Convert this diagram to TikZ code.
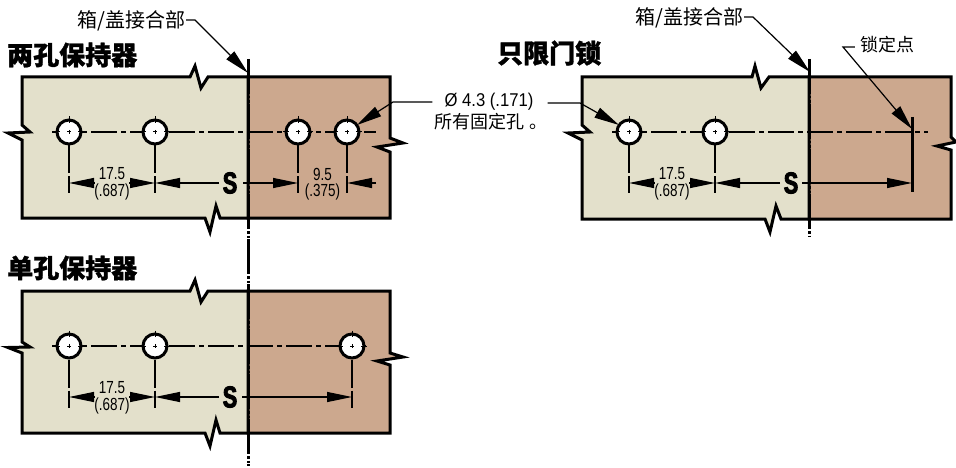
\documentclass[tikz,border=0pt]{standalone}
\usepackage{fontspec}
\usetikzlibrary{arrows.meta}
\setmainfont{Liberation Sans}
\newfontfamily\cjk{Noto Sans CJK SC}
\newfontfamily\cjkh[FakeBold=1.2]{Noto Sans CJK SC}
\newfontfamily\narrowf[FakeStretch=0.77]{Liberation Sans}
\newfontfamily\sizef[FakeStretch=0.9]{Liberation Sans}
\newfontfamily\narrowbf[FakeStretch=0.72,FakeBold=3]{Liberation Sans}
\definecolor{beigeplate}{HTML}{E3E0CB}
\definecolor{brownplate}{HTML}{CCA88E}
\tikzset{
  plateA/.style={fill=beigeplate,draw=black,line width=3pt,miter limit=10},
  plateB/.style={fill=brownplate,draw=black,line width=3pt,miter limit=10},
  chain/.style={line width=1.3pt,dash pattern=on 26pt off 4pt on 5pt off 4pt},
  hole/.style={circle,fill=white,draw=black,line width=3pt,minimum size=24pt,inner sep=0pt},
  extline/.style={line width=1.3pt,dash pattern=on 28pt off 3pt on 18pt},
  dimtip/.style={line width=1.2pt,-{Triangle[length=25pt,width=10pt]}},
  leader/.style={line width=1.2pt,-{Triangle[length=25pt,width=11pt]}},
  foldline/.style={line width=3pt,dash pattern=on 35pt off 2pt on 2.5pt off 2pt on 2.5pt off 1pt},
  heading/.style={font=\cjkh\bfseries\fontsize{26}{28}\selectfont,inner sep=0pt},
  note/.style={font=\cjk\fontsize{18}{20}\selectfont,inner sep=0pt},
  jointnote/.style={font=\cjk\fontsize{20}{22}\selectfont,inner sep=0pt},
  dimtext/.style={font=\narrowf\fontsize{17.5}{19}\selectfont,inner sep=0pt},
  sizetext/.style={font=\sizef\fontsize{18.5}{20}\selectfont,inner sep=0pt},
  slabel/.style={font=\narrowbf\bfseries\fontsize{30}{32}\selectfont,inner sep=0pt},
  lockbar/.style={line width=3pt},
}
\newcommand{\holeat}[3]{%
  \node[hole] (#1) at (#2,#3) {};
  \draw[line width=1pt] (#2-2,#3) -- (#2+2,#3) (#2,#3-2) -- (#2,#3+2);
  \draw[line width=1pt] (#2-15,#3) -- (#2-9,#3) (#2+9,#3) -- (#2+15,#3) (#2,#3-15.5) -- (#2,#3-9);
}
\begin{document}
\begin{tikzpicture}[x=1pt,y=-1pt]
\useasboundingbox (0,0) rectangle (956,468);
\fill[white] (0,0) rectangle (956,468);
% ---- plates
\draw[plateA] (248,77) -- (208,77) -- (201,88) -- (195,66) -- (190,77) -- (22,77) -- (22,125) -- (30,132) -- (8,133) -- (22,140) -- (22,218) -- (205,218) -- (210,232) -- (216,206) -- (220,218) -- (248,218);
\draw[plateB] (248,77) -- (390,77) -- (390,138) -- (403,143) -- (377,147) -- (390,152) -- (390,218) -- (248,218) -- cycle;
\draw[plateA] (248,291) -- (208,291) -- (201,302) -- (195,280) -- (190,291) -- (22,291) -- (22,342) -- (30,347) -- (8,347.5) -- (22,353) -- (22,433) -- (205,433) -- (210,446) -- (216,420) -- (220,433) -- (248,433);
\draw[plateB] (248,291) -- (390,291) -- (390,353) -- (403,357) -- (377,361) -- (390,365) -- (390,433) -- (248,433) -- cycle;
\draw[plateA] (809,77) -- (769,77) -- (761,88) -- (755,66) -- (752,77) -- (582,77) -- (582,125) -- (590,132) -- (568,133) -- (582,140) -- (582,219) -- (765,219) -- (770,232) -- (776,206) -- (781,219) -- (809,219);
\draw[plateB] (809,77) -- (951,77) -- (951,137) -- (956,142) -- (937,146) -- (951,150) -- (951,219) -- (809,219) -- cycle;
% ---- fold lines
\coordinate (foldAtop) at (248,59);
\coordinate (foldAbot) at (248,466);
\coordinate (foldBtop) at (809,59);
\coordinate (foldBbot) at (809,236);
\draw[foldline] (foldAtop) -- (foldAbot);
\draw[foldline] (foldBtop) -- (foldBbot);
% ---- centre lines
\coordinate (clAl) at (52,132); \coordinate (clAr) at (376,132);
\coordinate (clBl) at (52,346); \coordinate (clBr) at (366,346);
\coordinate (clCl) at (612,132); \coordinate (clCr) at (928,132);
\draw[chain] (clAl) -- (clAr);
\draw[chain] (clBl) -- (clBr);
\draw[chain] (clCl) -- (clCr);
% ---- holes
\holeat{a1}{69}{132}\holeat{a2}{155}{132}\holeat{a3}{298}{132}\holeat{a4}{347}{132}
\holeat{b1}{69}{346}\holeat{b2}{155}{346}\holeat{b3}{352}{346}
\holeat{c1}{629}{132}\holeat{c2}{715}{132}
% ---- extension lines
\coordinate (ya) at (0,193); \coordinate (yb) at (0,408); \coordinate (yc) at (0,193);
\foreach \h in {a1,a2,a3,a4} \draw[extline] (\h.south) -- (\h |- ya);
\foreach \h in {b1,b2,b3} \draw[extline] (\h.south) -- (\h |- yb);
\foreach \h in {c1,c2} \draw[extline] (\h.south) -- (\h |- yc);
% ---- S labels
\node[slabel] (sa) at (230,183) {S};
\node[slabel] (sb) at (230,397) {S};
\node[slabel] (sc) at (791,183) {S};
% ---- dimension texts
\node[dimtext] (ta1) at (112,173.5) {17.5};
\node[dimtext] (ta2) at (112,191.5) {(.687)};
\node[dimtext] (tb1) at (112,387.5) {17.5};
\node[dimtext] (tb2) at (112,405.5) {(.687)};
\node[dimtext] (tc1) at (672,173.5) {17.5};
\node[dimtext] (tc2) at (672,191.5) {(.687)};
\node[dimtext] (td1) at (322.5,174) {9.5};
\node[dimtext] (td2) at (322.5,192) {(.375)};
% ---- dimension arrows, plate A
\coordinate (da) at (0,183);
\coordinate (m1) at (94,183); \coordinate (m2) at (129,183); \coordinate (m3) at (219,183);
\coordinate (m4) at (243,183); \coordinate (m5) at (376,183);
\draw[dimtip] (m1) -- (a1 |- da);
\draw[dimtip] (m2) -- (a2 |- da);
\draw[dimtip] (m3) -- (a2 |- da);
\draw[dimtip] (m4) -- (a3 |- da);
\draw[dimtip] (m5) -- (a4 |- da);
% ---- dimension arrows, plate B
\coordinate (db) at (0,397);
\coordinate (n1) at (94,397); \coordinate (n2) at (129,397); \coordinate (n3) at (219,397);
\coordinate (n4) at (242,397);
\draw[dimtip] (n1) -- (b1 |- db);
\draw[dimtip] (n2) -- (b2 |- db);
\draw[dimtip] (n3) -- (b2 |- db);
\draw[dimtip] (n4) -- (b3 |- db);
% ---- dimension arrows, plate C
\coordinate (lockT) at (912,117); \coordinate (lockB) at (912,192);
\draw[lockbar] (lockT) -- (lockB);
\coordinate (dc) at (0,183);
\coordinate (p1) at (654,183); \coordinate (p2) at (689,183); \coordinate (p3) at (780,183);
\coordinate (p4) at (802,183);
\draw[dimtip] (p1) -- (c1 |- dc);
\draw[dimtip] (p2) -- (c2 |- dc);
\draw[dimtip] (p3) -- (c2 |- dc);
\draw[dimtip] (p4) -- (lockT |- dc);
% ---- headings
\node[heading,anchor=west] (h1) at (7,55) {两孔保持器};
\node[heading,anchor=west] (h2) at (7,268) {单孔保持器};
\node[heading,anchor=west] (h3) at (497,53) {只限门锁};
% ---- notes and leaders
\node[jointnote,anchor=east] (j1) at (186,21) {箱/盖接合部};
\node[jointnote,anchor=east] (j2) at (744,18) {箱/盖接合部};
\node[note] (lockn) at (887,45) {锁定点};
\node[sizetext] (dia) at (489,102) {Ø 4.3 (.171)};
\node[note,anchor=west] (dib) at (434,122) {所有固定孔\hspace{5pt}。};
\coordinate (jt1) at (248,73); \coordinate (jt2) at (810,72); \coordinate (lockP) at (912,129);
\coordinate (bend1) at (195,20); \coordinate (bend2) at (753,17); \coordinate (bend3) at (843,47);
\coordinate (bend4) at (393,102); \coordinate (bend5) at (580,103);
\coordinate (hp1) at (357,125); \coordinate (hp2) at (619,125);
\draw[leader] (j1.east |- bend1) -- (bend1) -- (jt1);
\draw[leader] (j2.east |- bend2) -- (bend2) -- (jt2);
\draw[leader] (lockn.west |- bend3) ++(-5,0) -- (bend3) -- (lockP);
\draw[leader] (dia.west |- bend4) ++(-12,0) -- (bend4) -- (hp1);
\draw[leader] (dia.east |- bend5) ++(14,0) -- (bend5) -- (hp2);
\end{tikzpicture}
\end{document}
